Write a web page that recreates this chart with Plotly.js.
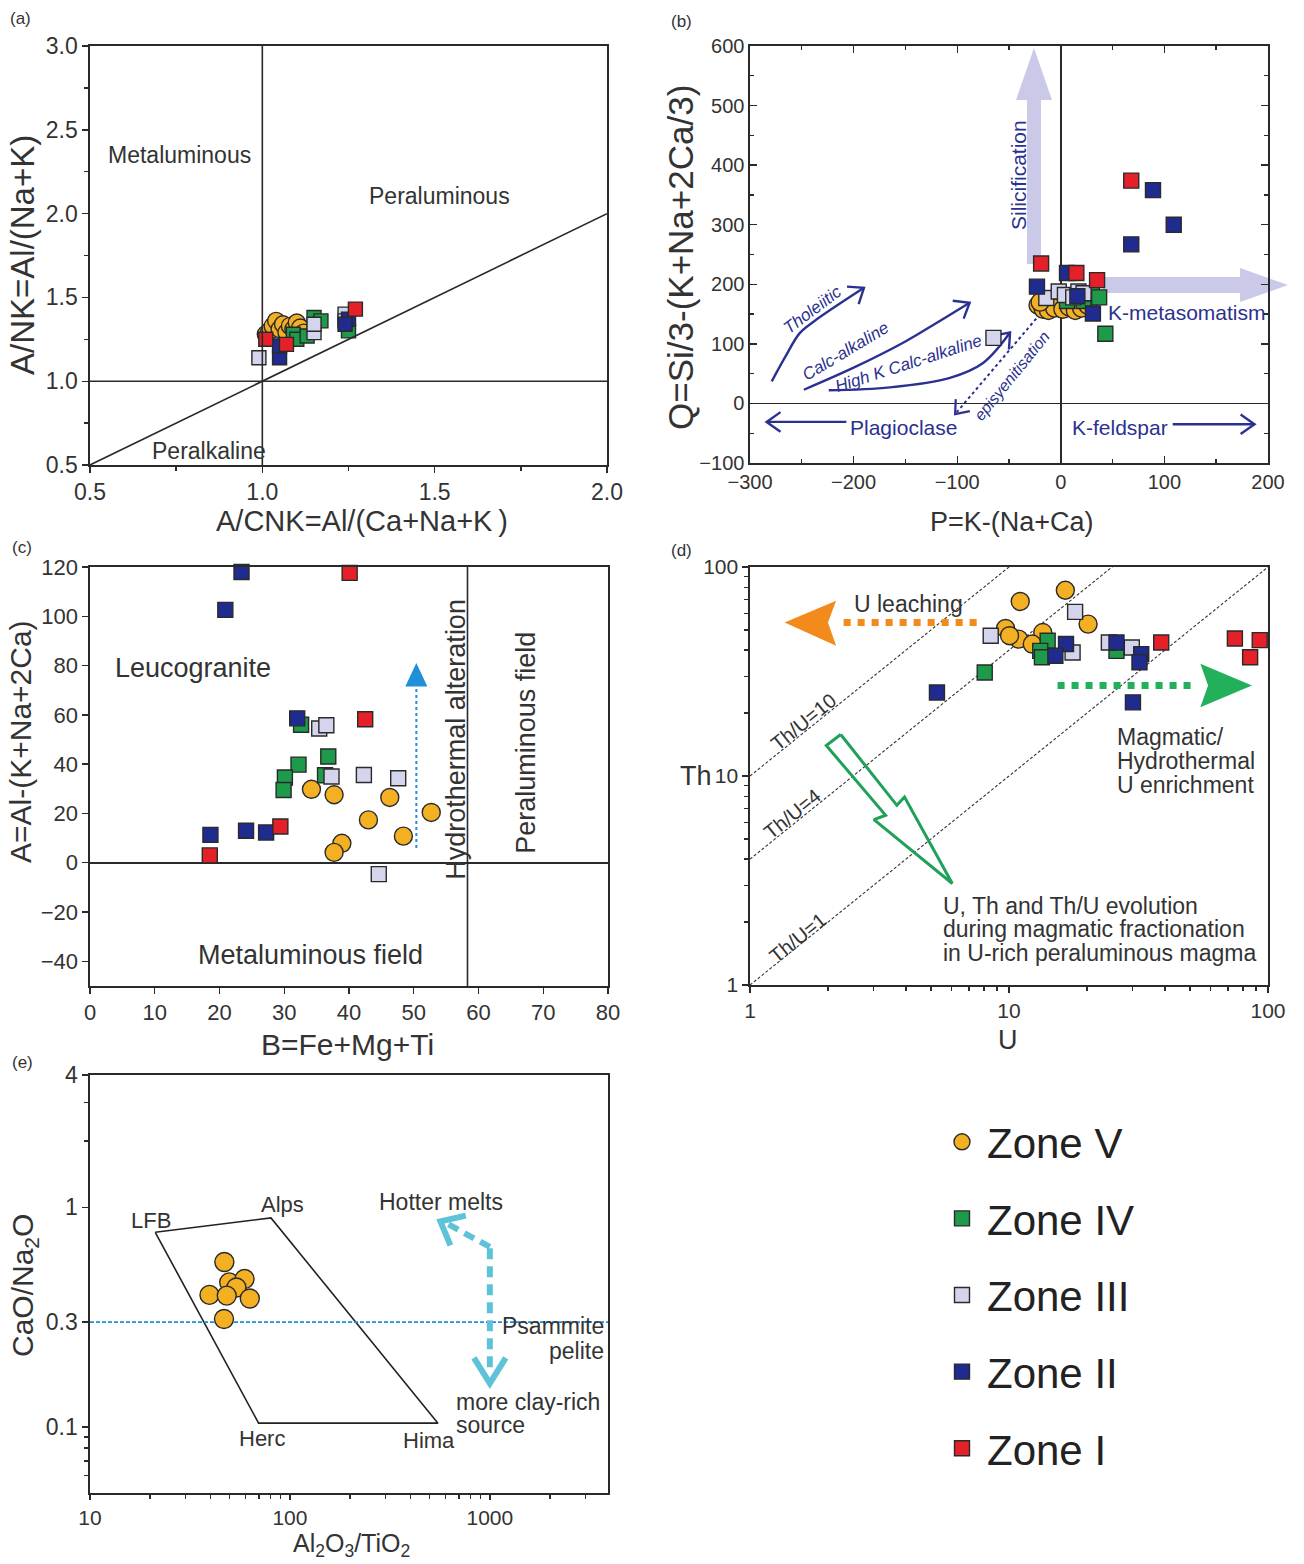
<!DOCTYPE html>
<html><head><meta charset="utf-8">
<script src="https://cdn.plot.ly/plotly-3.0.1.min.js"></script>
<style>body{margin:0;background:#fff}#chart{width:1304px;height:1564px}</style>
</head><body><div id="chart"></div>
<script>
// ================= DATA =================
const zoneNames = ['Zone V','Zone IV','Zone III','Zone II','Zone I'];
const zoneColors = ['#F3B022','#1E9A4B','#D4D4EC','#1F2B8E','#E42128'];
const zoneSymbols = ['circle','square','square','square','square'];

// (a) A/CNK vs A/NK
const a_x_V = [1.01,1.02,1.03,1.04,1.05,1.06,1.07,1.08,1.09,1.10,1.11,1.12];
const a_y_V = [1.28,1.30,1.33,1.36,1.31,1.34,1.29,1.33,1.31,1.35,1.32,1.29];
const a_x_IV = [1.09,1.10,1.13,1.15,1.17,1.25];
const a_y_IV = [1.28,1.25,1.27,1.38,1.36,1.30];
const a_x_III = [0.99,1.15,1.15,1.24,1.24];
const a_y_III = [1.14,1.29,1.34,1.40,1.36];
const a_x_II = [1.05,1.05,1.25,1.24];
const a_y_II = [1.14,1.21,1.37,1.34];
const a_x_I = [1.01,1.07,1.27];
const a_y_I = [1.25,1.22,1.43];

// (b) P vs Q
const b_x_V = [-22,-17,-12,-6,2,8,14,20,26,-20];
const b_y_V = [165,158,156,160,158,162,156,160,165,170];
const b_x_IV = [6,22,30,37,43];
const b_y_IV = [172,172,185,178,117];
const b_x_III = [-65,-14,-2,4,12,17,22];
const b_y_III = [110,177,188,182,178,188,185];
const b_x_II = [-23,6,16,31,68,89,109];
const b_y_II = [196,219,180,151,267,358,300];
const b_x_I = [-19,15,35,68];
const b_y_I = [235,219,207,374];

// (c) B vs A
const c_x_V = [34.2,37.7,43.0,46.3,48.4,52.7,38.9,37.7];
const c_y_V = [29.8,27.6,17.4,26.5,10.8,20.4,7.9,4.2];
const c_x_IV = [32.6,36.8,32.2,30.1,29.9,36.3];
const c_y_IV = [56.0,43.1,39.8,34.6,29.5,35.5];
const c_x_III = [35.4,36.5,37.3,42.3,47.6,44.6];
const c_y_III = [54.5,55.8,35.0,35.6,34.3,-4.6];
const c_x_II = [23.4,20.9,32.0,18.6,24.1,27.2];
const c_y_II = [118,102.6,58.6,11.3,13.0,12.3];
const c_x_I = [40.1,42.5,18.5,29.4];
const c_y_I = [117.6,58.2,3.0,14.7];

// (d) U vs Th
const d_U_V = [11.05,16.5,9.7,10.9,20.2,13.5,10.05,12.3];
const d_Th_V = [68.4,77.4,50.8,45.2,53.3,48.6,46.9,42.8];
const d_U_IV = [8.06,14.1,13.2,13.4,26.0];
const d_Th_IV = [31.3,44.4,39.7,37.0,39.7];
const d_U_III = [8.5,18.0,17.6,24.3,29.8];
const d_Th_III = [46.9,61.0,39.0,43.5,41.2];
const d_U_II = [5.27,16.6,15.1,26.0,32.4,31.9,30.1];
const d_Th_II = [25.1,42.8,37.6,43.5,38.3,35.0,22.5];
const d_U_I = [38.7,74.5,92.9,85.3];
const d_Th_I = [43.5,45.5,44.7,37.0];

// (e) Al2O3/TiO2 vs CaO/Na2O
const e_x_V = [47,49.7,59.3,54,39.6,48.3,63,46.8];
const e_y_V = [0.563,0.455,0.471,0.431,0.399,0.396,0.384,0.31];

// reference field / ratio lines
const thuRatios = [10,4,1];
const e_field_x = [21.2,80.4,550,69.7,21.2];
const e_field_y = [0.769,0.894,0.104,0.104,0.769];
const e_split_y = 0.3;
const c_split_x = 58.3;

// ================= STYLE / HELPERS =================
const W = 1304, H = 1564;
const PX = v => v / W, PY = v => 1 - v / H;
const FONT = 'Liberation Sans, Arial, Helvetica, sans-serif';
const INK = '#2a2a2a';
const NAVY = '#2B3190';
const LAV = 'rgba(196,196,230,0.9)';

const traces = [];
function zoneTrace(xs, ys, k, xa, ya, size, legend) {
  traces.push({
    type: 'scatter', mode: 'markers', x: xs, y: ys, xaxis: xa, yaxis: ya,
    name: zoneNames[k], legendgroup: zoneNames[k], legendrank: k + 1,
    showlegend: !!legend, hoverinfo: 'x+y+name',
    marker: { symbol: zoneSymbols[k], color: zoneColors[k], size: k === 0 ? size + 3 : size,
      line: { color: INK, width: 1.4 } },
    cliponaxis: false
  });
}
function lineTrace(xs, ys, xa, ya, color, width, dash, extra) {
  traces.push(Object.assign({
    type: 'scatter', mode: 'lines', x: xs, y: ys, xaxis: xa, yaxis: ya,
    showlegend: false, hoverinfo: 'skip',
    line: { color: color, width: width, dash: dash || 'solid' }
  }, extra || {}));
}
function fillTrace(xs, ys, xa, ya, color) {
  traces.push({ type: 'scatter', mode: 'lines', x: xs, y: ys, xaxis: xa, yaxis: ya,
    fill: 'toself', fillcolor: color, line: { width: 0, color: color },
    showlegend: false, hoverinfo: 'skip' });
}
// open chevron arrow head computed in pixel-like space
function chevron(tip, prev, sx, sy, logx, logy, len, ang) {
  const f = (v, lg) => lg ? Math.log10(v) : v;
  const g = (v, lg) => lg ? Math.pow(10, v) : v;
  const tx = f(tip[0], logx) * sx, ty = f(tip[1], logy) * sy;
  const qx = f(prev[0], logx) * sx, qy = f(prev[1], logy) * sy;
  let dx = qx - tx, dy = qy - ty; const n = Math.hypot(dx, dy); dx /= n; dy /= n;
  const a = ang * Math.PI / 180;
  const r = s => [tx + len * (dx * Math.cos(s) - dy * Math.sin(s)), ty + len * (dx * Math.sin(s) + dy * Math.cos(s))];
  const p1 = r(a), p2 = r(-a);
  return { x: [g(p1[0] / sx, logx), tip[0], g(p2[0] / sx, logx)],
           y: [g(p1[1] / sy, logy), tip[1], g(p2[1] / sy, logy)] };
}
const L = Math.log10;

// ================= TRACES =================
// (a)
const aX = [a_x_V, a_x_IV, a_x_III, a_x_II, a_x_I], aY = [a_y_V, a_y_IV, a_y_III, a_y_II, a_y_I];
for (let k = 0; k < 5; k++) zoneTrace(aX[k], aY[k], k, 'x', 'y', 14);

// (b) decorations first
const SBX = 1.036, SBY = 0.5957;
const thol = { x: [-279, -266, -252, -238, -190], y: [37, 78, 118, 138, 194] };
const calc = { x: [-248, -200, -150, -120, -88], y: [23, 60, 104, 135, 169] };
const hiK = { x: [-224, -165, -107, -75, -49], y: [22, 27, 43, 68, 119] };
[thol, calc, hiK].forEach(c => {
  lineTrace(c.x, c.y, 'x2', 'y2', NAVY, 2.4, 'solid', { line: { color: NAVY, width: 2.4, shape: 'spline' } });
  const n = c.x.length;
  const ch = chevron([c.x[n - 1], c.y[n - 1]], [c.x[n - 2], c.y[n - 2]], SBX, SBY, false, false, 17, 38);
  lineTrace(ch.x, ch.y, 'x2', 'y2', NAVY, 2.4);
});
lineTrace([-20, -102], [150, -18], 'x2', 'y2', NAVY, 2, 'dot');
(() => { const ch = chevron([-102, -18], [-20, 150], SBX, SBY, false, false, 15, 38); lineTrace(ch.x, ch.y, 'x2', 'y2', NAVY, 2.2); })();
lineTrace([-207, -284], [-31, -31], 'x2', 'y2', NAVY, 2.4);
(() => { const ch = chevron([-284, -31], [-207, -31], SBX, SBY, false, false, 17, 35); lineTrace(ch.x, ch.y, 'x2', 'y2', NAVY, 2.4); })();
lineTrace([108, 187], [-35, -35], 'x2', 'y2', NAVY, 2.4);
(() => { const ch = chevron([187, -35], [108, -35], SBX, SBY, false, false, 17, 35); lineTrace(ch.x, ch.y, 'x2', 'y2', NAVY, 2.4); })();

const bX = [b_x_V, b_x_IV, b_x_III, b_x_II, b_x_I], bY = [b_y_V, b_y_IV, b_y_III, b_y_II, b_y_I];
for (let k = 0; k < 5; k++) zoneTrace(bX[k], bY[k], k, 'x2', 'y2', 15);

// (c)
lineTrace([50.4, 50.4], [6, 72], 'x3', 'y3', '#1E8FD8', 2, 'dot');
fillTrace([48.7, 52.1, 50.4, 48.7], [71.5, 71.5, 81, 71.5], 'x3', 'y3', '#1E8FD8');
const cX = [c_x_V, c_x_IV, c_x_III, c_x_II, c_x_I], cY = [c_y_V, c_y_IV, c_y_III, c_y_II, c_y_I];
for (let k = 0; k < 5; k++) zoneTrace(cX[k], cY[k], k, 'x3', 'y3', 15);

// (d) decorations
thuRatios.forEach(r => lineTrace([1, 100], [r, r * 100], 'x4', 'y4', '#333', 1.1, '3px,2px'));
lineTrace([7.5, 2.25], [54.3, 54.3], 'x4', 'y4', '#F28A1C', 7, 'dot');
fillTrace([2.15, 1.36, 2.15, 2.0, 2.15], [68.9, 54.3, 42.0, 54.3, 68.9], 'x4', 'y4', '#F28A1C');
lineTrace([15.4, 52], [27.1, 27.1], 'x4', 'y4', '#22B05A', 7, 'dot');
fillTrace([54.8, 86.7, 54.8, 58.7, 54.8], [34.4, 27.1, 21.3, 27.1, 34.4], 'x4', 'y4', '#22B05A');
lineTrace([2.24, 3.69, 3.95, 6.04, 3.01, 3.34, 1.97, 2.24], [15.8, 7.24, 7.94, 3.06, 6.19, 6.49, 14.0, 15.8],
  'x4', 'y4', '#20A15A', 3);
const dX = [d_U_V, d_U_IV, d_U_III, d_U_II, d_U_I], dY = [d_Th_V, d_Th_IV, d_Th_III, d_Th_II, d_Th_I];
for (let k = 0; k < 5; k++) zoneTrace(dX[k], dY[k], k, 'x4', 'y4', 15, true);

// (e)
lineTrace(e_field_x, e_field_y, 'x5', 'y5', '#222', 1.6);
lineTrace([10, 4000], [e_split_y, e_split_y], 'x5', 'y5', '#1E8FD8', 1.6, '4px,2px');
const CY = '#5EC3D8';
lineTrace([1000, 1000], [0.65, 0.175], 'x5', 'y5', CY, 6, '11px,7px');
lineTrace([1000, 600], [0.66, 0.85], 'x5', 'y5', CY, 6, '11px,7px');
(() => {
  const c1 = chevron([1000, 0.158], [1000, 0.65], 200, 219.5, true, true, 30, 32);
  lineTrace(c1.x, c1.y, 'x5', 'y5', CY, 6);
  const c2 = chevron([566, 0.863], [1000, 0.66], 200, 219.5, true, true, 26, 40);
  lineTrace(c2.x, c2.y, 'x5', 'y5', CY, 6);
})();
zoneTrace(e_x_V, e_y_V, 0, 'x5', 'y5', 16);

// ================= LAYOUT =================
function axis(o, fs) {
  return Object.assign({
    showline: true, linecolor: INK, linewidth: 1.6, mirror: true,
    ticks: 'outside', ticklen: 6, tickwidth: 1.4, tickcolor: INK,
    tickfont: { family: FONT, size: fs || 20, color: '#333' },
    showgrid: false, zeroline: false, fixedrange: true
  }, o);
}
const dA = { x: [PX(90), PX(607)], y: [PY(465), PY(46)] };
const dB = { x: [PX(750), PX(1268)], y: [PY(463), PY(46)] };
const dC = { x: [PX(90), PX(608)], y: [PY(986), PY(567)] };
const dD = { x: [PX(750), PX(1268)], y: [PY(985), PY(567)] };
const dE = { x: [PX(90), PX(608)], y: [PY(1493), PY(1075)] };
const minorLog = (vals) => ({ tickmode: 'array', tickvals: vals, ticks: 'outside', ticklen: 4, tickcolor: INK });

const ann = [];
function T(x, y, text, size, o) {
  ann.push(Object.assign({ x: x, y: y, text: text, showarrow: false,
    font: { family: FONT, size: size, color: '#333' }, xanchor: 'center', yanchor: 'middle' }, o || {}));
}
const P = { xref: 'paper', yref: 'paper' };
const PR = Object.assign({ textangle: -90 }, P);
// panel labels
T(PX(20), PY(18), '(a)', 17, P); T(PX(681), PY(22), '(b)', 17, P);
T(PX(22), PY(548), '(c)', 17, P); T(PX(681), PY(550), '(d)', 17, P);
T(PX(22), PY(1062), '(e)', 17, P);
// axis titles
T(PX(362), PY(521), 'A/CNK=Al/(Ca+Na+K\u2009)', 29, P);
T(PX(22), PY(255), 'A/NK=Al/(Na+K)', 33, PR);
T(PX(1012), PY(522), 'P=K-(Na+Ca)', 27, P);
T(PX(680), PY(258), 'Q=Si/3-(K+Na+2Ca/3)', 35, PR);
T(PX(347), PY(1044), 'B=Fe+Mg+Ti', 30, P);
T(PX(20), PY(742), 'A=Al-(K+Na+2Ca)', 30, PR);
T(PX(1008), PY(1040), 'U', 27, P);
T(PX(696), PY(776), 'Th', 27, P);
T(PX(351), PY(1563), 'Al<sub>2</sub>O<sub>3</sub>/TiO<sub>2</sub>', 25, Object.assign({ yanchor: 'bottom' }, P));
T(PX(24), PY(1286), 'CaO/Na<sub>2</sub>O', 30, PR);

// (a) field labels
const RA = { xref: 'x', yref: 'y' };
T(0.761, 2.35, 'Metaluminous', 23, RA);
T(1.515, 2.105, 'Peraluminous', 23, RA);
T(0.845, 0.583, 'Peralkaline', 23, RA);

// (b) labels
const RB = { xref: 'x2', yref: 'y2' };
const nv = (sz, o) => Object.assign({ font: { family: FONT, size: sz, color: NAVY } }, RB, o || {});
T(-239, 157, '<i>Tholeiitic</i>', 17, nv(17, { textangle: -37 }));
T(-208, 87, '<i>Calc-alkaline</i>', 17, nv(17, { textangle: -31 }));
T(-147, 67, '<i>High K Calc-alkaline</i>', 17, nv(17, { textangle: -18 }));
T(-47, 47, '<i>episyenitisation</i>', 16, nv(16, { textangle: -51 }));
T(-41, 384, 'Silicification', 21, nv(21, { textangle: -90 }));
T(122, 152, 'K-metasomatism', 21, nv(21));
T(-152, -40, 'Plagioclase', 21, nv(21));
T(57, -40, 'K-feldspar', 21, nv(21));

// (c) labels
const RC = { xref: 'x3', yref: 'y3' };
T(15.9, 79, 'Leucogranite', 27, RC);
T(34, -37.3, 'Metaluminous field', 27, RC);
T(56.4, 50, 'Hydrothermal alteration', 27, Object.assign({ textangle: -90 }, RC));
T(67.3, 48.6, 'Peraluminous field', 27, Object.assign({ textangle: -90 }, RC));

// (d) labels (log axes -> log10 positions)
const RD = { xref: 'x4', yref: 'y4' };
T(0.206, 1.258, 'Th/U=10', 20, Object.assign({ textangle: -39 }, RD));
T(0.162, 0.820, 'Th/U=4', 20, Object.assign({ textangle: -39 }, RD));
T(0.184, 0.224, 'Th/U=1', 20, Object.assign({ textangle: -39 }, RD));
T(0.612, 1.822, 'U leaching', 23, RD);
const magL = ['Magmatic/', 'Hydrothermal', 'U enrichment'];
magL.forEach((s, i) => T(1.409, (985 - (737 + i * 24)) / 209, s, 23, Object.assign({ xanchor: 'left' }, RD)));
const evoL = ['U, Th and Th/U evolution', 'during magmatic fractionation', 'in U-rich peraluminous magma'];
evoL.forEach((s, i) => T(0.737, (985 - (906 + i * 23.5)) / 209, s, 23, Object.assign({ xanchor: 'left' }, RD)));

// (e) labels
const RE = { xref: 'x5', yref: 'y5' };
T(1.4155, -0.062, 'LFB', 22, Object.assign({ xanchor: 'right' }, RE));
T(1.964, 0.012, 'Alps', 22, RE);
T(2.757, 0.025, 'Hotter melts', 23, RE);
T(3.58, -0.54, 'Psammite', 23, Object.assign({ xanchor: 'right' }, RE));
T(3.58, -0.655, 'pelite', 23, Object.assign({ xanchor: 'right' }, RE));
T(2.82, -0.885, 'more clay-rich', 23, Object.assign({ xanchor: 'left' }, RE));
T(2.82, -0.99, 'source', 23, Object.assign({ xanchor: 'left' }, RE));
T(1.859, -1.053, 'Herc', 22, RE);
T(2.694, -1.061, 'Hima', 22, RE);

// shapes
const shapes = [
  { type: 'line', xref: 'x', yref: 'y', x0: 1, x1: 1, y0: 0.5, y1: 3, line: { color: INK, width: 1.6 } },
  { type: 'line', xref: 'x', yref: 'y', x0: 0.5, x1: 2, y0: 1, y1: 1, line: { color: INK, width: 1.6 } },
  { type: 'line', xref: 'x', yref: 'y', x0: 0.5, x1: 2, y0: 0.5, y1: 2, line: { color: INK, width: 1.6 } },
  { type: 'line', xref: 'x3', yref: 'y3', x0: c_split_x, x1: c_split_x, y0: -50, y1: 120, line: { color: INK, width: 1.6 } }
];
function pathPx(pts) { return 'M' + pts.map(p => PX(p[0]).toFixed(5) + ',' + PY(p[1]).toFixed(5)).join(' L') + ' Z'; }
shapes.push({ type: 'path', xref: 'paper', yref: 'paper', layer: 'below', fillcolor: LAV, line: { width: 0 },
  path: pathPx([[1027, 264], [1041, 264], [1041, 100], [1052, 100], [1034, 48], [1016, 100], [1027, 100]]) });
shapes.push({ type: 'path', xref: 'paper', yref: 'paper', layer: 'below', fillcolor: LAV, line: { width: 0 },
  path: pathPx([[1103, 277], [1240, 277], [1240, 268], [1288, 285], [1240, 302], [1240, 293], [1103, 293]]) });

const layout = {
  width: W, height: H, margin: { l: 0, r: 0, t: 0, b: 0 }, autosize: false,
  paper_bgcolor: '#fff', plot_bgcolor: 'rgba(0,0,0,0)',
  font: { family: FONT, color: '#333' },
  xaxis: axis({ domain: dA.x, anchor: 'y', range: [0.5, 2.0], dtick: 0.5, tick0: 0.5, tickformat: '.1f',
    minor: { dtick: 0.25, ticks: 'outside', ticklen: 4, tickcolor: INK } }, 23),
  yaxis: axis({ domain: dA.y, anchor: 'x', range: [0.5, 3.0], dtick: 0.5, tick0: 0.5, tickformat: '.1f',
    minor: { dtick: 0.25, ticks: 'outside', ticklen: 4, tickcolor: INK } }, 23),
  xaxis2: axis({ domain: dB.x, anchor: 'y2', range: [-300, 200], dtick: 100, ticks: 'inside', ticklen: 7, mirror: 'allticks',
    zeroline: true, zerolinecolor: INK, zerolinewidth: 1.6,
    minor: { dtick: 50, ticks: 'inside', ticklen: 4, tickcolor: INK } }, 20),
  yaxis2: axis({ domain: dB.y, anchor: 'x2', range: [-100, 600], dtick: 100, ticks: 'inside', ticklen: 7, mirror: 'allticks',
    zeroline: true, zerolinecolor: INK, zerolinewidth: 1.6,
    minor: { dtick: 50, ticks: 'inside', ticklen: 4, tickcolor: INK } }, 20),
  xaxis3: axis({ domain: dC.x, anchor: 'y3', range: [0, 80], dtick: 10 }, 22),
  yaxis3: axis({ domain: dC.y, anchor: 'x3', range: [-50, 120], dtick: 20, tick0: 0,
    zeroline: true, zerolinecolor: INK, zerolinewidth: 1.6 }, 22),
  xaxis4: axis({ domain: dD.x, anchor: 'y4', type: 'log', range: [0, 2], tickvals: [1, 10, 100],
    minor: minorLog([2, 3, 4, 5, 6, 7, 8, 9, 20, 30, 40, 50, 60, 70, 80, 90]) }, 21),
  yaxis4: axis({ domain: dD.y, anchor: 'x4', type: 'log', range: [0, 2], tickvals: [1, 10, 100],
    minor: minorLog([2, 3, 4, 5, 6, 7, 8, 9, 20, 30, 40, 50, 60, 70, 80, 90]) }, 21),
  xaxis5: axis({ domain: dE.x, anchor: 'y5', type: 'log', range: [1, L(3900)], tickvals: [10, 100, 1000],
    ticktext: ['10', '100', '1000'], ticklen: 5,
    minor: minorLog([20, 30, 40, 50, 60, 70, 80, 90, 200, 300, 400, 500, 600, 700, 800, 900, 2000, 3000]) }, 21),
  yaxis5: axis({ domain: dE.y, anchor: 'x5', type: 'log', range: [L(0.05), L(4)], tickvals: [0.1, 0.3, 1, 4],
    ticktext: ['0.1', '0.3', '1', '4'],
    minor: minorLog([0.06, 0.07, 0.08, 0.09, 2, 3]) }, 23),
  showlegend: true,
  legend: { x: PX(937), y: PY(1108), xanchor: 'left', yanchor: 'top', bgcolor: 'rgba(0,0,0,0)',
    font: { family: FONT, size: 42, color: '#222' }, tracegroupgap: 19, itemsizing: 'trace', itemwidth: 40,
    traceorder: 'grouped' },
  annotations: ann, shapes: shapes
};

Plotly.newPlot('chart', traces, layout, { staticPlot: true, displayModeBar: false });
</script>
</body></html>
